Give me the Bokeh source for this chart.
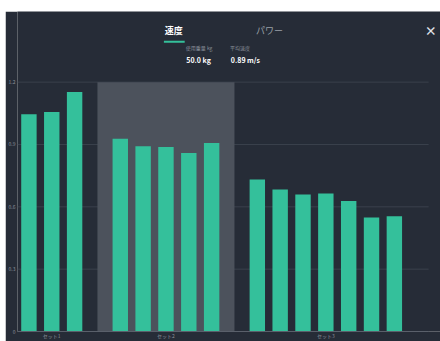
from bokeh.plotting import figure
from bokeh.models import FixedTicker, Range1d
from bokeh.core.properties import value
from bokeh.embed import file_html
from bokeh.resources import INLINE

# ---- data ----
set_labels = ["セット1", "セット2", "セット3"]
set1_speed = [1.045, 1.056, 1.152]
set2_speed = [0.928, 0.891, 0.888, 0.859, 0.907]
set3_speed = [0.732, 0.683, 0.659, 0.664, 0.628, 0.549, 0.555]
y_ticks = [0, 0.3, 0.6, 0.9, 1.2]
y_tick_labels = ["0", "0.3", "0.6", "0.9", "1.2"]
selected_set = 1  # セット2 highlighted
tab_labels = ["速度", "パワー"]
info_labels = ["使用重量 kg", "平均速度"]
info_values = ["50.0 kg", "0.89 m/s"]

BG = "#262c37"
BAR = "#34c09b"
HL = "#4c525c"
GRID = "#3a414c"
FONT = "Noto Sans CJK JP"

# positions: one empty slot between sets
sets = [set1_speed, set2_speed, set3_speed]
xs, ys, spans = [], [], []
pos = 0
for s in sets:
    start = pos
    for v in s:
        xs.append(pos)
        ys.append(v)
        pos += 1
    spans.append((start, pos - 1))
    pos += 1
centers = [(a + b) / 2 for a, b in spans]
x_lo, x_hi = -0.5, pos - 0.5

p = figure(width=435, height=330, output_backend="svg", toolbar_location=None,
           x_range=Range1d(x_lo, 18.02), y_range=Range1d(0, 1.54),
           background_fill_color=BG, border_fill_color=BG,
           min_border_left=10, min_border_right=0, min_border_top=0,
           min_border_bottom=8, margin=(11, 0, 0, 5))
p.outline_line_color = None
p.xgrid.visible = False
p.ygrid.visible = False

# grid lines over the plotted span
p.segment(x0=[x_lo] * len(y_ticks), x1=[x_hi] * len(y_ticks), y0=y_ticks, y1=y_ticks,
          line_color=GRID, line_width=1)

# highlight selected set
a, b = spans[selected_set]
p.quad(left=[a - 1], right=[b + 1], bottom=[0], top=[y_ticks[-1]],
       fill_color=HL, line_color=None)

p.vbar(x=xs, top=ys, width=0.675, fill_color=BAR, line_color=None)

# axes
for ax in (p.xaxis[0], p.yaxis[0]):
    ax.major_tick_line_color = None
    ax.minor_tick_line_color = None
    ax.major_tick_out = 0
    ax.major_tick_in = 0
    ax.minor_tick_out = 0
    ax.minor_tick_in = 0
    ax.major_label_text_font_size = "5px"
    ax.major_label_text_color = "#8a909a"
    ax.major_label_standoff = 0
    ax.major_label_text_font = FONT

p.yaxis.ticker = FixedTicker(ticks=y_ticks)
p.yaxis.major_label_overrides = {t: l for t, l in zip(y_ticks, y_tick_labels)}
p.yaxis.axis_line_color = None
p.yaxis.major_label_standoff = 2

p.xaxis.ticker = FixedTicker(ticks=centers)
p.xaxis.major_label_overrides = {c: l for c, l in zip(centers, set_labels)}
p.xaxis.axis_line_color = "#5a606b"
p.xaxis.bounds = (x_lo, x_hi)

# header
p.text(x=[6.34], y=[1.448], text=[tab_labels[0]], text_font=value(FONT),
       text_font_size="9px", text_font_style="bold", text_color="#ffffff",
       text_align="center", text_baseline="middle")
p.text(x=[10.53], y=[1.448], text=[tab_labels[1]], text_font=value(FONT),
       text_font_size="9px", text_color="#9aa0a8",
       text_align="center", text_baseline="middle")
p.segment(x0=[5.91], x1=[6.82], y0=[1.395], y1=[1.395], line_color=BAR, line_width=2)
p.text(x=[7.45, 9.24], y=[1.366, 1.366], text=info_labels, text_font=value(FONT),
       text_font_size="5px", text_color="#8a909a",
       text_align="center", text_baseline="middle")
p.text(x=[7.43, 9.48], y=[1.309, 1.309], text=info_values, text_font=value(FONT),
       text_font_size="7px", text_font_style="bold", text_color="#ffffff",
       text_align="center", text_baseline="middle")
p.text(x=[17.59], y=[1.448], text=["×"], text_font=value(FONT),
       text_font_size="12px", text_font_style="bold", text_color="#e0e3e8",
       text_align="center", text_baseline="middle")

open("out.html", "w").write(file_html(p, INLINE))
